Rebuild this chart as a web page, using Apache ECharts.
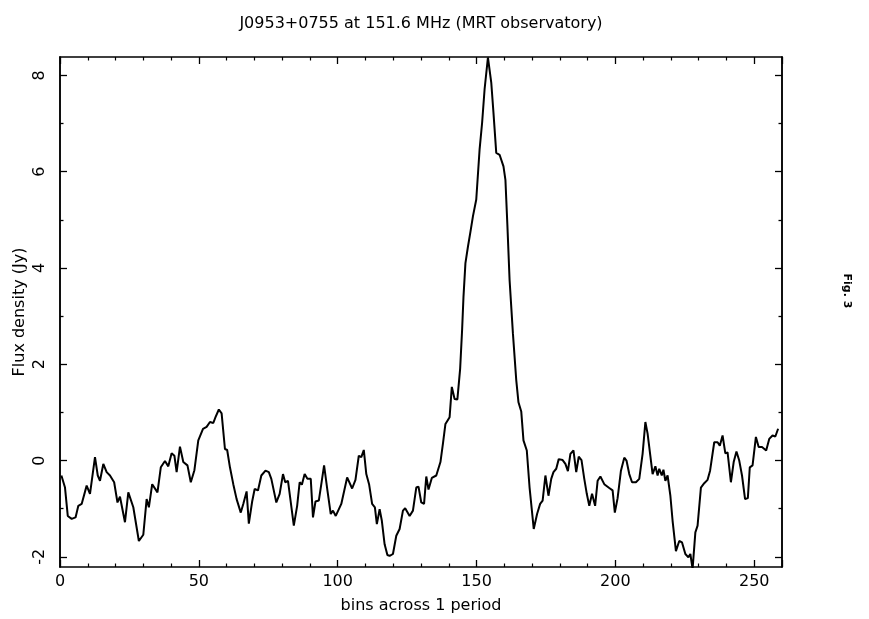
<!DOCTYPE html>
<html>
<head>
<meta charset="utf-8">
<script src="https://cdn.jsdelivr.net/npm/echarts@6/dist/echarts.min.js"></script>
<style>
html,body{margin:0;padding:0;background:#fff;}
#chart{width:869px;height:619px;}
</style>
</head>
<body>
<div id="chart"></div>
<script>
// Data (bin, flux density in Jy)
const bins = [0.5,1.8,2.8,4.2,5.6,6.6,7.8,9.6,10.8,12.6,13.6,14.4,15.6,16.8,18,19.5,20.7,21.6,23.4,24.6,26.4,28.4,30,31.2,32,33.2,35.1,36.3,37.8,39,40.2,41.2,42,43.2,44.4,45.9,47.1,48.4,49.8,51.5,52.8,54,55.2,56,57.2,58.2,59.4,60.2,61.2,62.4,63.6,65.1,66,67.2,68,69.2,70.1,71.3,72.5,74,75.2,76.1,77.9,79.1,80.3,81.1,82.1,84.2,85.4,86.3,87.1,88.1,89.1,90.3,91.1,92,93.2,94.1,95.1,96.3,97.5,98.3,99.3,101.3,103.4,105.2,106.4,107.6,108.5,109.4,110.3,111.3,112.4,113.4,114.1,115.1,115.9,116.9,117.9,118.7,119.9,121.1,122.3,123.5,124.3,125.9,127.1,128.3,129.1,130.1,131.1,131.9,132.7,133.9,135.5,137,137.9,138.8,140.3,141.1,142.1,143.1,144.1,144.8,145.3,146,146.9,147.8,148.7,149.9,151.1,152,152.9,154.1,155.3,156.1,157.1,158.3,159.7,160.4,161.1,161.9,163.1,164.3,165.1,166.1,166.9,168.1,169.1,170.6,171.8,172.9,173.8,174.8,175.9,176.9,177.7,178.7,179.6,181,182,182.9,183.8,184.9,185.9,186.8,187.8,188.8,189.7,190.6,191.6,192.7,193.6,194.6,196,197.8,199,199.8,200.8,202,203.2,204,205,206,207.4,208.6,209.8,210.8,211.6,212.5,213.4,214.4,215.2,215.8,216.7,217.3,218,218.8,219.8,220.6,221.8,223,224,225.2,226.3,227,227.8,228.8,229.6,230.8,232,233.2,234.1,235.6,236.8,237.6,238.6,239.6,240.4,241.6,242.6,243.6,244.6,245.6,246.7,247.7,248.4,249.4,250.6,251.6,252.8,254.3,255.4,256.6,257.6,258.6];
const flux = [-0.31,-0.56,-1.15,-1.21,-1.18,-0.94,-0.9,-0.52,-0.69,0.07,-0.31,-0.42,-0.07,-0.24,-0.31,-0.45,-0.87,-0.75,-1.28,-0.66,-0.97,-1.67,-1.54,-0.8,-0.97,-0.49,-0.66,-0.14,-0.01,-0.12,0.15,0.1,-0.24,0.29,-0.03,-0.1,-0.45,-0.2,0.42,0.66,0.7,0.8,0.78,0.9,1.06,0.98,0.24,0.22,-0.14,-0.49,-0.8,-1.08,-0.9,-0.64,-1.31,-0.85,-0.59,-0.62,-0.31,-0.21,-0.24,-0.38,-0.87,-0.69,-0.28,-0.45,-0.42,-1.35,-0.94,-0.45,-0.5,-0.28,-0.38,-0.38,-1.18,-0.85,-0.83,-0.49,-0.1,-0.62,-1.11,-1.04,-1.15,-0.9,-0.35,-0.58,-0.4,0.1,0.07,0.22,-0.28,-0.49,-0.9,-0.97,-1.32,-1.01,-1.25,-1.74,-1.96,-1.98,-1.94,-1.56,-1.42,-1.04,-0.99,-1.15,-1.04,-0.56,-0.54,-0.87,-0.9,-0.33,-0.6,-0.36,-0.31,-0.03,0.35,0.76,0.9,1.53,1.28,1.27,1.91,2.71,3.4,4.1,4.44,4.75,5.07,5.42,6.46,7.01,7.71,8.37,7.85,7.22,6.39,6.35,6.11,5.83,4.9,3.75,2.64,1.67,1.21,1.02,0.42,0.21,-0.56,-1.42,-1.11,-0.9,-0.83,-0.31,-0.73,-0.38,-0.24,-0.17,0.03,0.01,-0.07,-0.22,0.14,0.21,-0.24,0.08,0.01,-0.38,-0.69,-0.94,-0.69,-0.94,-0.42,-0.33,-0.49,-0.57,-0.62,-1.08,-0.78,-0.21,0.06,0,-0.28,-0.45,-0.45,-0.38,0.14,0.8,0.56,0.14,-0.28,-0.12,-0.31,-0.17,-0.31,-0.19,-0.42,-0.31,-0.73,-1.25,-1.88,-1.67,-1.7,-1.94,-2.01,-1.94,-2.25,-1.49,-1.35,-0.56,-0.47,-0.4,-0.21,0.38,0.38,0.31,0.52,0.15,0.17,-0.45,-0.03,0.19,0,-0.31,-0.8,-0.78,-0.14,-0.1,0.49,0.28,0.28,0.21,0.45,0.52,0.5,0.66];
const yMajorTicks = [-2, 0, 2, 4, 6, 8];
const yMinorTicks = [-1, 1, 3, 5, 7];
const titleText = 'J0953+0755 at 151.6 MHz (MRT observatory)';
const xName = 'bins across 1 period';
const yName = 'Flux density (Jy)';
const sideNote = 'Fig. 3';

const FONT = 'DejaVu Sans';
const X_MIN = 0, X_MAX = 260, Y_MIN = -2.21, Y_MAX = 8.38;

const chart = echarts.init(document.getElementById('chart'), null, {renderer: 'canvas'});

function xAx(pos, showLabel) {
  return {
    type: 'value', position: pos, min: X_MIN, max: X_MAX, interval: 50,
    axisLine: {show: true, onZero: false, lineStyle: {color: '#000', width: 1.5}},
    axisTick: {show: true, inside: true, length: 7, lineStyle: {color: '#000', width: 1.3}},
    minorTick: {show: true, splitNumber: 5, length: 3.5, lineStyle: {color: '#000', width: 1.2}},
    axisLabel: {show: showLabel, showMaxLabel: false, color: '#000', fontFamily: FONT, fontSize: 16, margin: 7},
    splitLine: {show: false}
  };
}
function yAx(pos, vals, len, showLabel) {
  return {
    type: 'value', position: pos, min: Y_MIN, max: Y_MAX,
    axisLine: {show: true, onZero: false, lineStyle: {color: '#000', width: 1.5}},
    axisTick: {show: true, inside: true, length: len, customValues: vals, lineStyle: {color: '#000', width: 1.3}},
    axisLabel: {show: showLabel, customValues: vals, rotate: 90, color: '#000', fontFamily: FONT, fontSize: 16, margin: 12},
    splitLine: {show: false}
  };
}

chart.setOption({
  backgroundColor: '#fff',
  animation: false,
  title: {
    text: titleText, left: 416, top: 11, textAlign: 'center',
    textStyle: {color: '#000', fontFamily: FONT, fontSize: 16, fontWeight: 'normal'}
  },
  grid: {left: 60, right: 87, top: 57, bottom: 52, containLabel: false},
  xAxis: [xAx('bottom', true), xAx('top', false)],
  yAxis: [
    yAx('left', yMajorTicks, 7, true),
    yAx('left', yMinorTicks, 3.5, false),
    yAx('right', yMajorTicks, 7, false),
    yAx('right', yMinorTicks, 3.5, false)
  ],
  graphic: [
    {type: 'text', x: 421, y: 606, style: {text: xName, fill: '#000', font: '16px "' + FONT + '"', align: 'center', verticalAlign: 'middle'}},
    {type: 'text', x: 20, y: 312, rotation: Math.PI / 2,
     style: {text: yName, fill: '#000', font: '16px "' + FONT + '"', align: 'center', verticalAlign: 'middle'}},
    {type: 'text', x: 847, y: 291, rotation: -Math.PI / 2,
     style: {text: sideNote, fill: '#000', font: 'bold 11px "' + FONT + '"', align: 'center', verticalAlign: 'middle'}}
  ],
  series: [{
    type: 'line', xAxisIndex: 0, yAxisIndex: 0,
    data: bins.map((b, i) => [b, flux[i]]),
    showSymbol: false, clip: true,
    lineStyle: {color: '#000', width: 2},
    silent: true
  }]
});
</script>
</body>
</html>
